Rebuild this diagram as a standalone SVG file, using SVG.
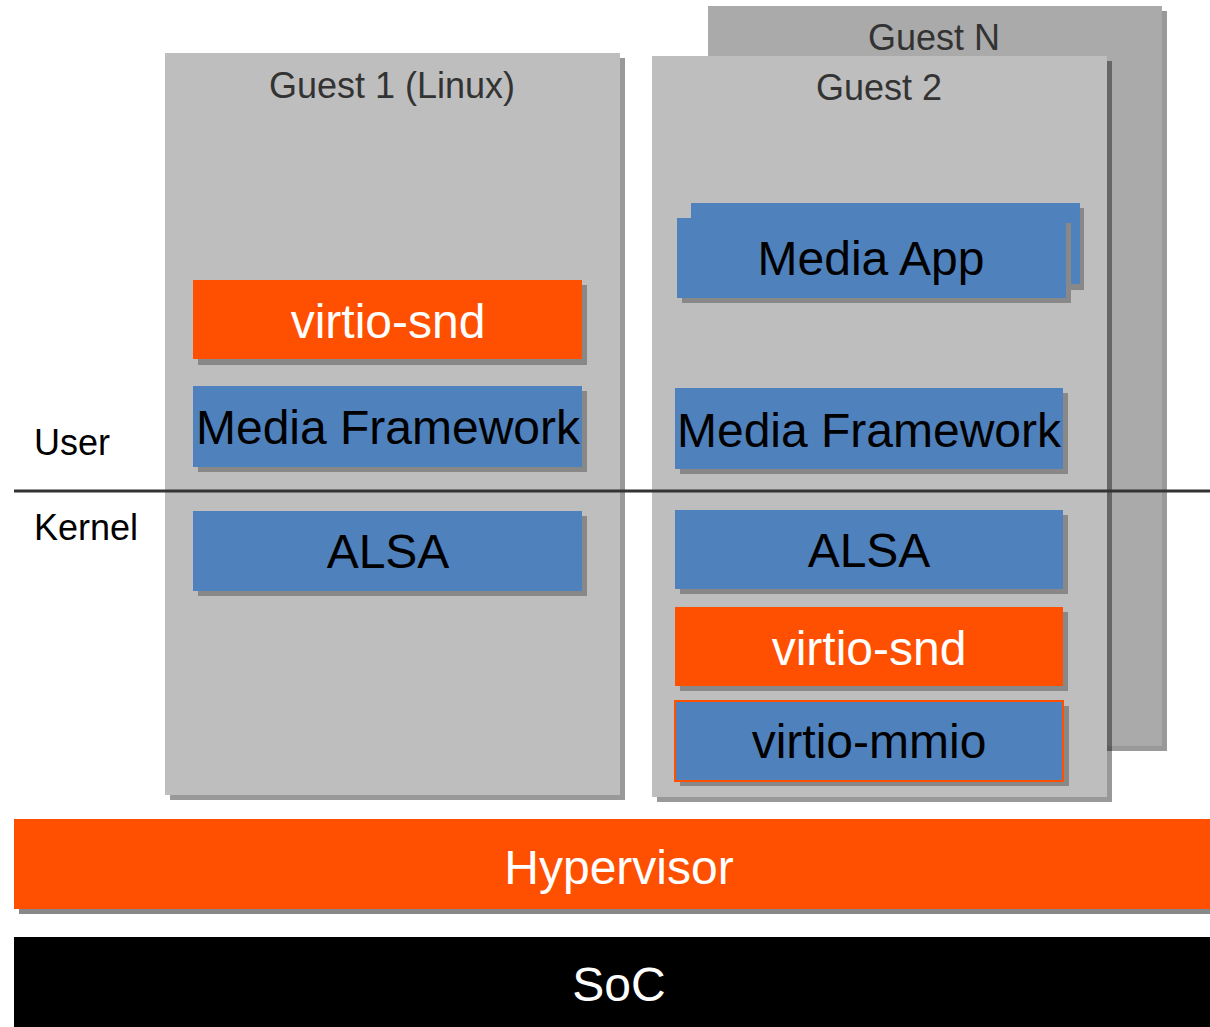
<svg xmlns="http://www.w3.org/2000/svg" width="1210" height="1027" viewBox="0 0 1210 1027">
<style>
text{font-family:"Liberation Sans",Arial,sans-serif;text-anchor:middle}
.gl{font-size:36px;fill:#333}
.bt{font-size:48px;fill:#000}
.wt{font-size:48px;fill:#fff}
.side{font-size:36px;fill:#000;text-anchor:start}
.gsh{fill:#000;fill-opacity:0.4}
.bsh{fill:#888}
.blue{fill:#4f81bd}
.org{fill:#ff4f00}
</style>
<rect width="1210" height="1027" fill="#fff"/>
<g id="guestN">
<rect class="gsh" x="713" y="11" width="454" height="740"/>
<rect x="708" y="6" width="454" height="740" fill="#a9aaa9"/>
<text class="gl" x="934" y="50">Guest N</text>
</g>
<g id="guest1">
<rect class="gsh" x="170" y="58" width="455" height="742"/>
<rect x="165" y="53" width="455" height="742" fill="#bebebe"/>
<text class="gl" x="392" y="98">Guest 1 (Linux)</text>
</g>
<g id="guest2">
<rect class="gsh" x="657" y="61" width="455" height="741"/>
<rect x="652" y="56" width="455" height="741" fill="#bebebe"/>
<text class="gl" x="879" y="100">Guest 2</text>
</g>
<g id="divider">
<line x1="14" y1="491" x2="1210" y2="491" stroke="#333" stroke-width="3"/>
</g>
<g id="user-label"><text class="side" x="34" y="455">User</text></g>
<g id="kernel-label"><text class="side" x="34" y="540">Kernel</text></g>
<g id="g1-virtio-snd">
<rect class="bsh" x="198" y="285" width="389" height="80"/>
<rect class="org" x="193" y="280" width="389" height="79"/>
<text class="wt" x="388" y="338">virtio-snd</text>
</g>
<g id="g1-media-framework">
<rect class="bsh" x="198" y="391" width="389" height="81"/>
<rect class="blue" x="193" y="386" width="389" height="81"/>
<text class="bt" x="388" y="444">Media Framework</text>
</g>
<g id="g1-alsa">
<rect class="bsh" x="198" y="516" width="389" height="80"/>
<rect class="blue" x="193" y="511" width="389" height="80"/>
<text class="bt" x="388" y="568">ALSA</text>
</g>
<g id="g2-media-app">
<rect class="bsh" x="695" y="208" width="389" height="82"/>
<rect class="blue" x="691" y="203" width="389" height="81"/>
<rect class="bsh" x="682" y="223" width="389" height="80"/>
<rect class="blue" x="677" y="218" width="389" height="80"/>
<text class="bt" x="871" y="275">Media App</text>
</g>
<g id="g2-media-framework">
<rect class="bsh" x="680" y="393" width="388" height="81"/>
<rect class="blue" x="675" y="388" width="388" height="81"/>
<text class="bt" x="869" y="447">Media Framework</text>
</g>
<g id="g2-alsa">
<rect class="bsh" x="680" y="515" width="388" height="79"/>
<rect class="blue" x="675" y="510" width="388" height="79"/>
<text class="bt" x="869" y="567">ALSA</text>
</g>
<g id="g2-virtio-snd">
<rect class="bsh" x="680" y="612" width="388" height="79"/>
<rect class="org" x="675" y="607" width="388" height="79"/>
<text class="wt" x="869" y="665">virtio-snd</text>
</g>
<g id="g2-virtio-mmio">
<rect class="bsh" x="680" y="706" width="389" height="80"/>
<rect class="blue" x="675" y="701" width="388" height="80" stroke="#ff4f00" stroke-width="2"/>
<text class="bt" x="869" y="758">virtio-mmio</text>
</g>
<g id="hypervisor">
<rect class="bsh" x="19" y="824" width="1191" height="90"/>
<rect class="org" x="14" y="819" width="1196" height="90"/>
<text class="wt" x="619" y="884">Hypervisor</text>
</g>
<g id="soc">
<rect x="14" y="937" width="1196" height="90" fill="#000"/>
<text class="wt" x="619" y="1001">SoC</text>
</g>
<g id="connectors"></g>
</svg>
